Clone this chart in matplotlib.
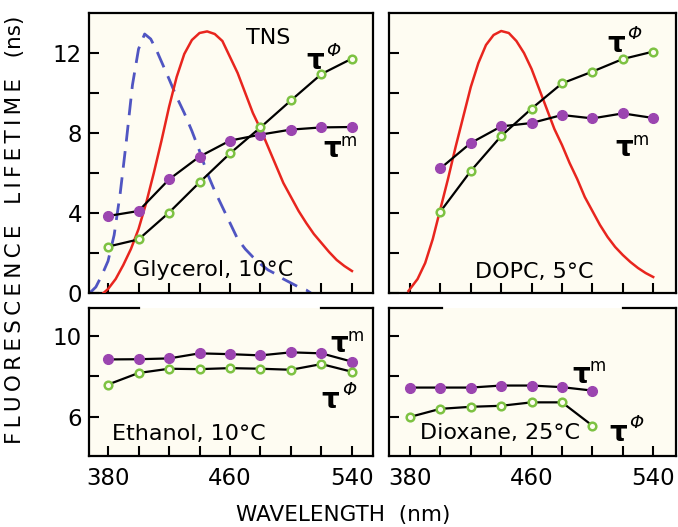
import matplotlib
matplotlib.use('Agg')
import matplotlib.pyplot as plt

# wavelengths of the lifetime measurements (nm)
wl = [380, 400, 420, 440, 460, 480, 500, 520, 540]

# glycerol, 10 C
gly_tm = [3.85, 4.1, 5.68, 6.82, 7.62, 7.92, 8.17, 8.28, 8.3]
gly_tphi = [2.32, 2.68, 4.02, 5.53, 6.98, 8.28, 9.63, 10.95, 11.72]

# DOPC, 5 C (starts at 400 nm)
dopc_wl = [400, 420, 440, 460, 480, 500, 520, 540]
dopc_tm = [6.23, 7.5, 8.33, 8.5, 8.9, 8.73, 8.98, 8.75]
dopc_tphi = [4.07, 6.1, 7.85, 9.22, 10.48, 11.07, 11.7, 12.07]

# ethanol, 10 C
eth_tm = [8.84, 8.85, 8.89, 9.14, 9.1, 9.04, 9.19, 9.14, 8.73]
eth_tphi = [7.6, 8.17, 8.38, 8.36, 8.41, 8.38, 8.33, 8.61, 8.23]

# dioxane, 25 C (ends at 500 nm)
diox_wl = [380, 400, 420, 440, 460, 480, 500]
diox_tm = [7.45, 7.45, 7.45, 7.55, 7.55, 7.47, 7.3]
diox_tphi = [6.0, 6.4, 6.5, 6.55, 6.72, 6.72, 5.57]

# emission spectra (scaled)
gly_em_wl = [377, 380, 385, 390, 395, 400, 405, 410, 415, 420, 425, 430, 435, 440,
             445, 450, 455, 460, 465, 470, 475, 480, 485, 490, 495, 500, 505, 510,
             515, 520, 525, 530, 535, 540]
gly_em = [0.0, 0.2, 0.7, 1.4, 2.2, 3.2, 4.5, 6.0, 7.6, 9.3, 10.8, 11.95, 12.65, 13.0,
          13.08, 12.95, 12.6, 11.8, 11.0, 10.0, 9.0, 8.2, 7.3, 6.4, 5.5, 4.8, 4.1, 3.5,
          2.95, 2.5, 2.05, 1.65, 1.35, 1.1]

gly_exc_wl = [368, 372, 376, 380, 384, 388, 392, 396, 400, 404, 408, 412, 416, 420,
              425, 430, 435, 440, 445, 450, 455, 460, 465, 470, 475, 480, 485, 490,
              495, 500, 505, 510, 513]
gly_exc = [0.0, 0.3, 0.9, 1.6, 2.9, 5.0, 7.6, 10.4, 12.2, 12.95, 12.7, 12.1, 11.4, 10.7,
           9.8, 9.0, 8.1, 7.1, 6.0, 5.1, 4.3, 3.5, 2.7, 2.2, 1.8, 1.45, 1.15, 0.95,
           0.7, 0.5, 0.3, 0.15, 0.0]

dopc_em_wl = [379, 385, 390, 395, 400, 405, 410, 415, 420, 425, 430, 435, 440, 445,
              450, 455, 460, 465, 470, 475, 480, 485, 490, 495, 500, 505, 510, 515,
              520, 525, 530, 535, 540]
dopc_em = [0.1, 0.7, 1.5, 2.7, 4.2, 5.7, 7.3, 8.8, 10.3, 11.5, 12.4, 12.9, 13.1, 13.0,
           12.6, 12.0, 11.2, 10.2, 9.2, 8.2, 7.4, 6.5, 5.7, 4.8, 4.1, 3.4, 2.8, 2.3,
           1.9, 1.55, 1.25, 1.0, 0.8]

xticks = [380, 400, 420, 440, 460, 480, 500, 520, 540]
xticklabels = ['380', '', '', '', '460', '', '', '', '540']

bg = '#fefcf2'
red = '#e8251e'
blue = '#5055c2'
purple = '#9b45b0'
green = '#7dc242'

fig = plt.figure(figsize=(6.78, 5.27), dpi=100)

ax1 = fig.add_axes([89 / 678, 1 - 293 / 527, 284 / 678, 280 / 527])
ax2 = fig.add_axes([389 / 678, 1 - 293 / 527, 287 / 678, 280 / 527])
ax3 = fig.add_axes([89 / 678, 1 - 456 / 527, 284 / 678, 148 / 527])
ax4 = fig.add_axes([389 / 678, 1 - 456 / 527, 287 / 678, 148 / 527])


def style(ax, xlim, ylim, yticks, yticklabels, xlabels):
    ax.set_facecolor(bg)
    ax.set_xlim(*xlim)
    ax.set_ylim(*ylim)
    ax.set_xticks(xticks)
    ax.set_xticklabels(xticklabels if xlabels else [])
    ax.set_yticks(yticks)
    ax.set_yticklabels(yticklabels)
    ax.tick_params(direction='in', length=7, width=1.5, labelsize=16.5,
                   top=False, right=False)
    ax.tick_params(axis='x', pad=8)
    ax.tick_params(axis='y', pad=5)
    for s in ax.spines.values():
        s.set_linewidth(1.6)


def taus(ax, x1, y1, x2, y2):
    ax.plot(x1, y1, '-', color='black', lw=1.6, marker='o', ms=7,
            mfc=purple, mec=purple, zorder=4)
    ax.plot(x2, y2, '-', color='black', lw=1.6, marker='o', ms=5.5,
            mfc=bg, mec=green, mew=1.8, zorder=4)


def tau_label(ax, x, y, sup):
    ax.text(x, y, 'τ', fontsize=20, fontweight='bold', ha='center', va='center')
    if sup == 'm':
        ax.annotate('m', (x, y), xytext=(12, 6), textcoords='offset points',
                    fontsize=12, ha='center', va='center')
    else:
        ax.annotate('Φ', (x, y), xytext=(13, 7), textcoords='offset points',
                    fontsize=13, fontstyle='italic', ha='center', va='center')


def broken_top(ax, left_end, right_start):
    ax.spines['top'].set_visible(False)
    lo, hi = ax.get_xlim()
    tr = ax.get_xaxis_transform()
    ax.plot([lo, left_end], [1, 1], color='black', lw=1.6, transform=tr, clip_on=False)
    ax.plot([right_start, hi], [1, 1], color='black', lw=1.6, transform=tr, clip_on=False)


style(ax1, (367.5, 553.8), (0, 14), [0, 2, 4, 6, 8, 10, 12],
      ['0', '', '4', '', '8', '', '12'], False)
style(ax2, (366.2, 555), (0, 14), [0, 2, 4, 6, 8, 10, 12], [], False)
style(ax3, (367.5, 553.8), (4.07, 11.38), [6, 8, 10], ['6', '', '10'], True)
style(ax4, (366.2, 555), (4.07, 11.38), [6, 8, 10], [], True)

# top left: glycerol
ax1.plot(gly_exc_wl, gly_exc, color=blue, lw=2, ls=(0, (6, 3.5)), zorder=2)
ax1.plot(gly_em_wl, gly_em, color=red, lw=1.8, zorder=3)
taus(ax1, wl, gly_tm, wl, gly_tphi)
ax1.text(485, 12.75, 'TNS', fontsize=16, ha='center', va='center')
tau_label(ax1, 516, 11.6, 'phi')
tau_label(ax1, 527, 7.2, 'm')
ax1.text(449, 1.15, 'Glycerol, 10°C', fontsize=16, ha='center', va='center')

# top right: DOPC
ax2.plot(dopc_em_wl, dopc_em, color=red, lw=1.8, zorder=3)
taus(ax2, dopc_wl, dopc_tm, dopc_wl, dopc_tphi)
tau_label(ax2, 515.5, 12.45, 'phi')
tau_label(ax2, 521, 7.25, 'm')
ax2.text(462, 1.05, 'DOPC, 5°C', fontsize=16, ha='center', va='center')

# bottom left: ethanol
taus(ax3, wl, eth_tm, wl, eth_tphi)
broken_top(ax3, 400, 520)
tau_label(ax3, 531.5, 9.6, 'm')
tau_label(ax3, 526, 6.85, 'phi')
ax3.text(433, 5.16, 'Ethanol, 10°C', fontsize=16, ha='center', va='center')

# bottom right: dioxane
taus(ax4, diox_wl, diox_tm, diox_wl, diox_tphi)
broken_top(ax4, 401, 520)
tau_label(ax4, 492.5, 8.08, 'm')
tau_label(ax4, 517, 5.2, 'phi')
ax4.text(439, 5.2, 'Dioxane, 25°C', fontsize=16, ha='center', va='center')

ylab = '\u2009'.join('FLUORESCENCE') + '   ' + '\u2009'.join('LIFETIME') + '   (ns)'
fig.text(15 / 678, 1 - 230 / 527, ylab, rotation=90,
         fontsize=15.5, ha='center', va='center')
fig.text(343 / 678, 1 - 515 / 527, 'WAVELENGTH  (nm)', fontsize=15.5,
         ha='center', va='center')

fig.savefig('out.png', dpi=100, facecolor='white')
